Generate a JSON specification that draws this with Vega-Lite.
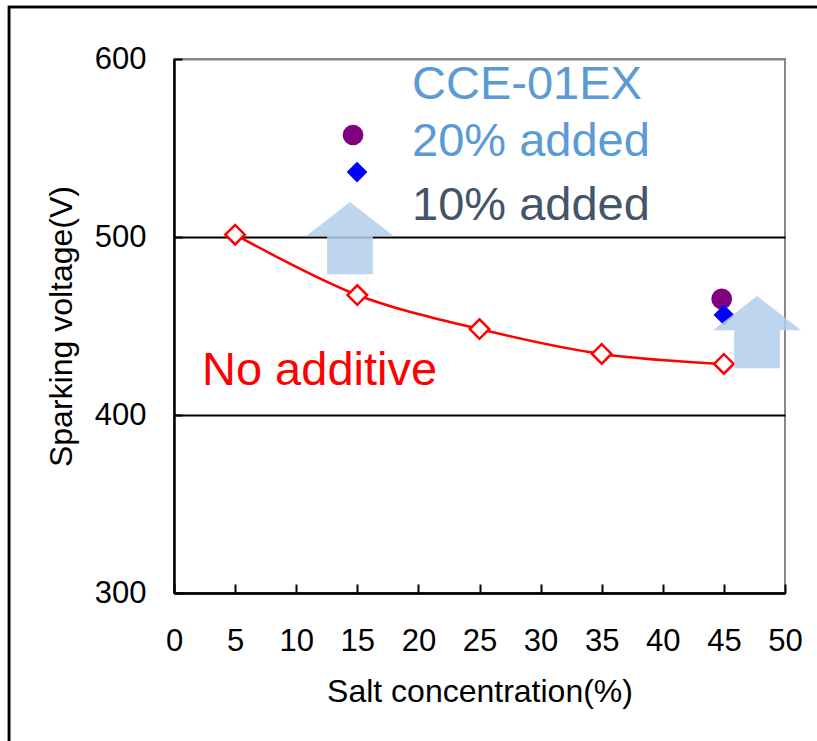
{
  "$schema": "https://vega.github.io/schema/vega-lite/v6.json",
  "description": "Sparking voltage vs salt concentration",
  "autosize": {"type": "none"},
  "padding": {"left": 174, "top": 59, "right": 32, "bottom": 148},
  "width": 611,
  "height": 534,
  "background": "white",
  "config": {
    "view": {"stroke": "#888888", "strokeWidth": 2},
    "font": "Liberation Sans"
  },
  "datasets": {
    "base": [
      {"salt": 5, "voltage": 501.3},
      {"salt": 15, "voltage": 467.4},
      {"salt": 25, "voltage": 448.3},
      {"salt": 35, "voltage": 434.3},
      {"salt": 45, "voltage": 428.7}
    ],
    "additive": [
      {"salt": 14.65, "voltage": 557.3, "dose": "20% added"},
      {"salt": 14.98, "voltage": 536.5, "dose": "10% added"},
      {"salt": 44.82, "voltage": 465.2, "dose": "20% added"},
      {"salt": 45.0, "voltage": 456.2, "dose": "10% added"}
    ],
    "arrows": [
      {"salt": 14.4, "voltage": 499.4},
      {"salt": 47.71, "voltage": 446.6}
    ],
    "notes": [
      {"salt": 19.48, "voltage": 577.5, "label": "CCE-01EX", "tone": "light"},
      {"salt": 19.48, "voltage": 545.3, "label": "20% added", "tone": "light"},
      {"salt": 19.48, "voltage": 509.8, "label": "10% added", "tone": "dark"},
      {"salt": 2.29, "voltage": 416.9, "label": "No additive", "tone": "red"}
    ]
  },
  "encoding": {
    "x": {
      "field": "salt",
      "type": "quantitative",
      "scale": {"domain": [0, 50], "nice": false, "zero": false},
      "axis": {
        "title": "Salt concentration(%)",
        "values": [0, 5, 10, 15, 20, 25, 30, 35, 40, 45, 50],
        "grid": false,
        "domainColor": "black",
        "domainWidth": 2.5,
        "tickColor": "black",
        "tickWidth": 2,
        "tickSize": -9,
        "labelFont": "Liberation Sans",
        "labelFontSize": 31,
        "labelColor": "black",
        "labelPadding": 42,
        "labelFlush": false,
        "titleFont": "Liberation Sans",
        "titleFontSize": 32,
        "titleFontWeight": "normal",
        "titleColor": "black",
        "titlePadding": 20
      }
    },
    "y": {
      "field": "voltage",
      "type": "quantitative",
      "scale": {"domain": [300, 600], "nice": false, "zero": false},
      "axis": {
        "title": "Sparking voltage(V)",
        "values": [300, 400, 500, 600],
        "grid": true,
        "gridColor": {"condition": {"test": "datum.value >= 600", "value": "#888888"}, "value": "black"},
        "gridWidth": 2,
        "domainColor": "black",
        "domainWidth": 2.5,
        "tickColor": "black",
        "tickWidth": 2,
        "tickSize": -8,
        "labelFont": "Liberation Sans",
        "labelFontSize": 31,
        "labelColor": "black",
        "labelPadding": 36,
        "labelFlush": false,
        "titleFont": "Liberation Sans",
        "titleFontSize": 32,
        "titleFontWeight": "normal",
        "titleColor": "black",
        "titlePadding": 16
      }
    }
  },
  "layer": [
    {
      "data": {"name": "arrows"},
      "mark": {"type": "rect", "filled": false, "stroke": "black", "strokeWidth": 2.5, "clip": false},
      "encoding": {
        "x": {"datum": -13.5},
        "x2": {"datum": 62},
        "y": {"datum": 629.2},
        "y2": {"datum": 150}
      }
    },
    {
      "data": {"name": "base"},
      "mark": {"type": "line", "color": "red", "strokeWidth": 2.5, "interpolate": "catmull-rom"}
    },
    {
      "data": {"name": "base"},
      "mark": {"type": "point", "shape": "diamond", "filled": true, "fill": "white", "stroke": "red", "strokeWidth": 2.5, "size": 380, "opacity": 1}
    },
    {
      "data": {"name": "additive"},
      "mark": {"type": "point", "filled": true, "size": 430, "opacity": 1},
      "encoding": {
        "color": {"field": "dose", "type": "nominal", "scale": {"domain": ["20% added", "10% added"], "range": ["#800080", "#0000ff"]}, "legend": null},
        "shape": {"field": "dose", "type": "nominal", "scale": {"domain": ["20% added", "10% added"], "range": ["circle", "diamond"]}, "legend": null}
      }
    },
    {
      "data": {"name": "arrows"},
      "mark": {
        "type": "point",
        "shape": "M0,-0.82L1,-0.04L0.52,-0.04L0.52,0.82L-0.52,0.82L-0.52,-0.04L-1,-0.04Z",
        "size": 7744,
        "filled": true,
        "fill": "#b3cfea",
        "strokeWidth": 0,
        "opacity": 0.85,
        "clip": false
      }
    },
    {
      "data": {"name": "notes"},
      "mark": {"type": "text", "align": "left", "baseline": "alphabetic", "font": "Liberation Sans", "fontSize": 47},
      "encoding": {
        "text": {"field": "label"},
        "color": {"field": "tone", "type": "nominal", "scale": {"domain": ["light", "dark", "red"], "range": ["#5b9bd5", "#44546a", "#ff0000"]}, "legend": null}
      }
    }
  ],
  "resolve": {"scale": {"color": "independent", "shape": "independent"}}
}
